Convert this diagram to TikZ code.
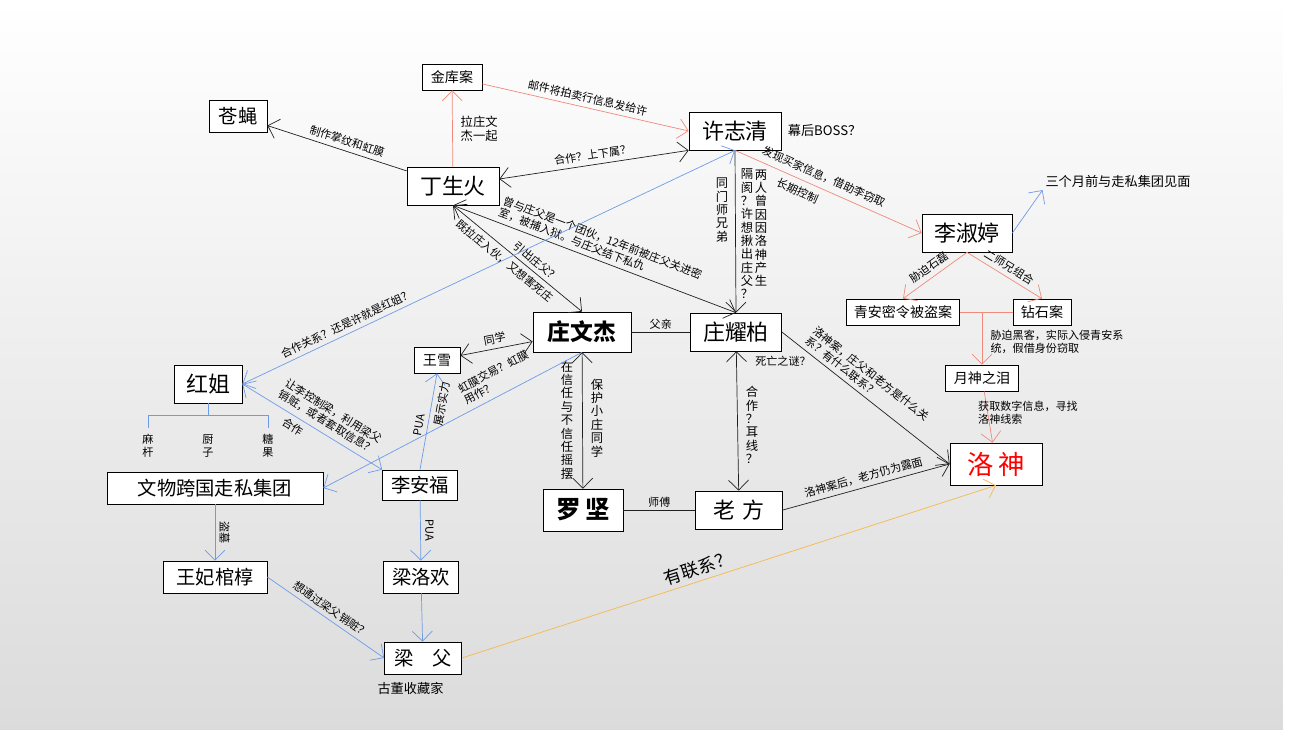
\documentclass[tikz,border=0pt]{standalone}
\usepackage{fontspec}
\setmainfont{Noto Sans CJK SC}
\usepackage{tikz}
\usetikzlibrary{arrows.meta,positioning}
\definecolor{LinkBlack}{HTML}{202020}
\definecolor{LinkRed}{HTML}{F08A7A}
\definecolor{LinkBlue}{HTML}{6E9BE8}
\definecolor{LinkGold}{HTML}{F7B84E}
\tikzset{
  person/.style={draw, fill=white, inner sep=2pt, font=\fontsize{12.5}{14}\selectfont},
  casebox/.style={draw, fill=white, inner sep=2pt, font=\fontsize{8}{9}\selectfont},
  lbl/.style={font=\fontsize{6.3}{7.2}\selectfont, inner sep=1.5pt, align=left, text=black},
  blk/.style={LinkBlack, -{Straight Barb[length=2mm]}},
  red/.style={LinkRed, -{Straight Barb[length=2mm]}},
  blu/.style={LinkBlue, -{Straight Barb[length=2mm]}},
  both/.style={{Straight Barb[length=2mm]}-{Straight Barb[length=2mm]}},
}
\begin{document}
\begin{tikzpicture}[x=0.02cm, y=-0.02cm]
    % Hintergrund
    \shade[top color=white, bottom color=black!14] (0,0) rectangle (1283,730);
    \fill[white] (1283,0) rectangle (1296,730);
    \useasboundingbox (0,0) rectangle (1296,730);

    % Personen und Faelle
    \node[person, minimum width=58*0.02cm, minimum height=32*0.02cm, font=\fontsize{11}{12}\selectfont] (cangying) at (238,116) {苍蝇};
    \node[casebox, minimum width=60*0.02cm, minimum height=26*0.02cm] (jinku) at (452,77) {金库案};
    \node[person, minimum width=92*0.02cm, minimum height=38*0.02cm] (xu) at (735,131) {许志清};
    \node[lbl, font=\fontsize{7.5}{8}\selectfont, right=2pt of xu] (boss) {幕后BOSS？};
    \node[person, minimum width=92*0.02cm, minimum height=38*0.02cm] (ding) at (453,186) {丁生火};
    \node[person, minimum width=90*0.02cm, minimum height=38*0.02cm] (li) at (967,233) {李淑婷};
    \node[lbl, font=\fontsize{7.5}{8}\selectfont] (sange) at (1118,181) {三个月前与走私集团见面};
    \node[casebox, minimum width=113*0.02cm, minimum height=26*0.02cm] (qingan) at (903,312) {青安密令被盗案};
    \node[casebox, minimum width=58*0.02cm, minimum height=26*0.02cm] (zuanshi) at (1042,312) {钻石案};
    \node[casebox, minimum width=73*0.02cm, minimum height=26*0.02cm] (yueshen) at (982,378) {月神之泪};
    \node[person, minimum width=92*0.02cm, minimum height=42*0.02cm, text=red, font=\fontsize{15}{16}\selectfont] (luoshen) at (996,464) {洛\,神};
    \node[person, minimum width=98*0.02cm, minimum height=40*0.02cm, font=\fontsize{13}{14}\bfseries] (wenjie) at (582,332) {庄文杰};
    \node[person, minimum width=91*0.02cm, minimum height=38*0.02cm] (yaobai) at (736,332) {庄耀柏};
    \node[casebox, minimum width=46*0.02cm, minimum height=26*0.02cm] (wangxue) at (437,360) {王雪};
    \node[person, minimum width=68*0.02cm, minimum height=38*0.02cm] (hongjie) at (208,384) {红姐};
    \node[person, minimum width=216*0.02cm, minimum height=32*0.02cm, font=\fontsize{11}{12}\selectfont] (jituan) at (215,488) {文物跨国走私集团};
    \node[person, minimum width=75*0.02cm, minimum height=30*0.02cm, font=\fontsize{11}{12}\selectfont] (anfu) at (420,485) {李安福};
    \node[person, minimum width=80*0.02cm, minimum height=42*0.02cm, font=\fontsize{14}{15}\bfseries] (luojian) at (583,510) {罗\,坚};
    \node[person, minimum width=87*0.02cm, minimum height=38*0.02cm] (laofang) at (739,510) {老\,\,方};
    \node[person, minimum width=104*0.02cm, minimum height=32*0.02cm, font=\fontsize{11}{12}\selectfont] (wangfei) at (215,577) {王妃棺椁};
    \node[person, minimum width=75*0.02cm, minimum height=32*0.02cm, font=\fontsize{11}{12}\selectfont] (luohuan) at (421,577) {梁洛欢};
    \node[person, minimum width=77*0.02cm, minimum height=32*0.02cm, font=\fontsize{11}{12}\selectfont] (liangfu) at (423,658) {梁\quad 父};
    \node[lbl, font=\fontsize{7.5}{8}\selectfont, below=3pt of liangfu, xshift=-0.25cm] (gudong) {古董收藏家};

    % Verbindungen
    \draw[blk] (ding) -- node[lbl, sloped, above=1pt, pos=0.45] {制作掌纹和虹膜} (cangying);
    \draw[red] (ding) -- node[lbl, right=3pt, font=\fontsize{7}{8}\selectfont] {拉庄文\\杰一起} (jinku);
    \draw[red] (jinku) -- node[lbl, sloped, above=1pt] {邮件将拍卖行信息发给许} (xu.west);
    \draw[LinkBlack, both] (ding) -- node[lbl, sloped, above=1pt] {合作？上下属？} (xu.south west);
    \draw[red] (xu.south) -- node[lbl, sloped, above=2pt, pos=0.45] {发现买家信息，借助李窃取} node[lbl, sloped, below=2pt, pos=0.36] {长期控制} (li.west);
    \draw[blu] (li.east) -- (sange.south west);
    \draw[red] (li.south) -- node[lbl, sloped, above=1pt] {胁迫石磊} (qingan.north);
    \draw[red] (li.south) -- node[lbl, sloped, above=1pt] {二师兄组合} (zuanshi.north);
    \draw[LinkRed] (qingan) -- (zuanshi);
    \coordinate (mid) at (982,312);
    \draw[red] (mid) -- (yueshen);
    \node[lbl] (xieporen) at (1057,342) {胁迫黑客，实际入侵青安系\\统，假借身份窃取};
    \draw[red] (yueshen) -- (luoshen);
    \node[lbl] (huoqu) at (1028,413) {获取数字信息，寻找\\洛神线索};
    \draw[LinkBlack, both] (ding.south) -- node[lbl, sloped, above=1pt, align=left] {曾与庄父是一个团伙，12年前被庄父关进密\\室，被捕入狱。与庄父结下私仇} (yaobai.north);
    \draw[LinkBlack, both] (ding.south) -- node[lbl, sloped, below=1pt, pos=0.45] {既拉庄入伙，又想害死庄} node[lbl, sloped, above=1pt, pos=0.6] {引出庄父？} (wenjie.north);
    \draw[blk] (xu.south) -- (yaobai.north);
    \node[lbl, align=center, font=\fontsize{7}{7.6}\selectfont] (tongmen) at (722,210) {同\\门\\师\\兄\\弟};
    \node[lbl, align=center, font=\fontsize{7}{7.6}\selectfont] (geheA) at (761,228) {两\\人\\曾\\因\\因\\洛\\神\\产\\生};
    \node[lbl, align=center, font=\fontsize{7}{7.6}\selectfont] (geheB) at (747,234) {隔\\阂\\？\\许\\想\\揪\\出\\庄\\父\\？};
    \draw[LinkBlue, both] (hongjie.east) -- node[lbl, sloped, above=1pt, pos=0.22] {合作关系？还是许就是红姐？} (xu.south);
    \draw[LinkBlack] (wenjie) -- node[lbl, above] {父亲} (yaobai);
    \draw[LinkBlack, both] (wangxue) -- node[lbl, sloped, above=1pt] {同学} (wenjie);
    \draw[LinkBlack, both] (wenjie) -- (luojian);
    \node[lbl, align=center, font=\fontsize{7}{7.6}\selectfont] (xinren) at (567,420) {在\\信\\任\\与\\不\\信\\任\\摇\\摆};
    \node[lbl, align=center, font=\fontsize{7}{7.6}\selectfont] (baohu) at (597,418) {保\\护\\小\\庄\\同\\学};
    \draw[LinkBlack, both] (yaobai) -- (laofang);
    \node[lbl, align=center, font=\fontsize{7}{7.6}\selectfont] (hezuo) at (752,425) {合\\作\\？\\耳\\线\\？};
    \node[lbl] (siwang) at (783,361) {死亡之谜？};
    \draw[LinkBlack] (luojian) -- node[lbl, above] {师傅} (laofang);
    \draw[blk] (yaobai.east) -- node[lbl, sloped, above=1pt, align=left, pos=0.45] {洛神案，庄父和老方是什么关\\系？有什么联系？} (luoshen.west);
    \draw[blk] (laofang.east) -- node[lbl, sloped, above=1pt] {洛神案后，老方仍为露面} (luoshen.west);
    \draw[LinkBlue, both] (hongjie.east) -- node[lbl, sloped, above=2pt, align=left, pos=0.5, xshift=0.2cm] {让李控制梁，利用梁父\\销赃，或者套取信息？} node[lbl, sloped, below=1pt, pos=0.4] {合作} (anfu.north west);
    \draw[blu] (wenjie.south) -- node[lbl, sloped, above=2pt, pos=0.3, align=left] {虹膜交易？虹膜\\用作？} (jituan.east);
    \draw[blu] (anfu.north) -- node[lbl, sloped, above=1pt, pos=0.45] {PUA} node[lbl, sloped, below=1pt, pos=0.7] {展示实力} (wangxue.south);
    % Klammer unter Rot
    \draw[LinkBlue] (hongjie.south) -- (208,415) (148,428) -- (148,415) -- (268,415) -- (268,428);
    \node[lbl, align=center] (magan) at (148,446) {麻\\杆};
    \node[lbl, align=center] (chuzi) at (208,446) {厨\\子};
    \node[lbl, align=center] (tangguo) at (268,446) {糖\\果};
    \draw[blu] (jituan) -- node[lbl, sloped, above=1pt] {盗墓} (wangfei);
    \draw[blu] (anfu) -- node[lbl, sloped, above=1pt] {PUA} (luohuan);
    \draw[blu] (luohuan) -- (liangfu);
    \draw[blu] (wangfei.east) -- node[lbl, sloped, above=1pt] {想通过梁父销赃？} (liangfu.west);
    \draw[LinkGold, -{Straight Barb[length=2mm]}] (liangfu.east) -- node[lbl, sloped, above=1pt, font=\fontsize{10}{11}\selectfont, pos=0.45] {有联系？} (luoshen.south);
\end{tikzpicture}
\end{document}
